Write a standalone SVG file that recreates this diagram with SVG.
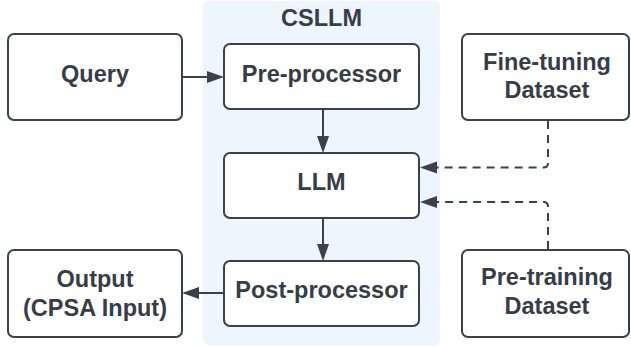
<svg xmlns="http://www.w3.org/2000/svg" width="631" height="347" viewBox="0 0 631 347">
  <style>
    .node { fill: #ffffff; stroke: #3a414a; stroke-width: 2; }
    .lbl { font-family: "Liberation Sans", Arial, sans-serif; font-weight: bold; font-size: 23.5px; fill: #363d47; text-anchor: middle; }
    .conn { fill: none; stroke: #3a414a; stroke-width: 2; }
    .dash { stroke-dasharray: 8 6; }
  </style>
  <defs>
    <marker id="arr" markerUnits="userSpaceOnUse" markerWidth="18" markerHeight="13" refX="0" refY="6.5" orient="auto">
      <path d="M0,0.5 L17,6.5 L0,12.5 z" fill="#3a414a"/>
    </marker>
  </defs>

  <g id="csllm">
    <rect x="203" y="1" width="237" height="344" rx="6" fill="#edf5ff"/>
    <text class="lbl" x="321.5" y="26">CSLLM</text>
  </g>

  <g id="query">
    <rect class="node" x="8" y="34" width="174" height="86" rx="6"/>
    <text class="lbl" x="95" y="82">Query</text>
  </g>

  <g id="preprocessor">
    <rect class="node" x="224" y="44" width="195" height="65" rx="6"/>
    <text class="lbl" x="321.5" y="82">Pre-processor</text>
  </g>

  <g id="llm">
    <rect class="node" x="224" y="153" width="195" height="65" rx="6"/>
    <text class="lbl" x="321.5" y="190">LLM</text>
  </g>

  <g id="postprocessor">
    <rect class="node" x="224" y="261" width="195" height="65" rx="6"/>
    <text class="lbl" x="321.5" y="298">Post-processor</text>
  </g>

  <g id="output">
    <rect class="node" x="8" y="250" width="174" height="87" rx="6"/>
    <text class="lbl" x="95" y="287">Output</text>
    <text class="lbl" x="95" y="316">(CPSA Input)</text>
  </g>

  <g id="finetuning">
    <rect class="node" x="462" y="34" width="167" height="86" rx="6"/>
    <text class="lbl" x="547" y="70">Fine-tuning</text>
    <text class="lbl" x="547" y="98">Dataset</text>
  </g>

  <g id="pretraining">
    <rect class="node" x="462" y="250" width="167" height="87" rx="6"/>
    <text class="lbl" x="547" y="285">Pre-training</text>
    <text class="lbl" x="547" y="314">Dataset</text>
  </g>

  <g id="connectors">
    <path class="conn" d="M182,77 H207" marker-end="url(#arr)"/>
    <path class="conn" d="M323,109 V136" marker-end="url(#arr)"/>
    <path class="conn" d="M323,218 V244" marker-end="url(#arr)"/>
    <path class="conn" d="M224,293 H199" marker-end="url(#arr)"/>
    <path class="conn dash" d="M548,121 V163 Q548,167.5 543.5,167.5 H437" marker-end="url(#arr)"/>
    <path class="conn dash" d="M548,249 V206.5 Q548,202 543.5,202 H437" marker-end="url(#arr)"/>
  </g>
</svg>
